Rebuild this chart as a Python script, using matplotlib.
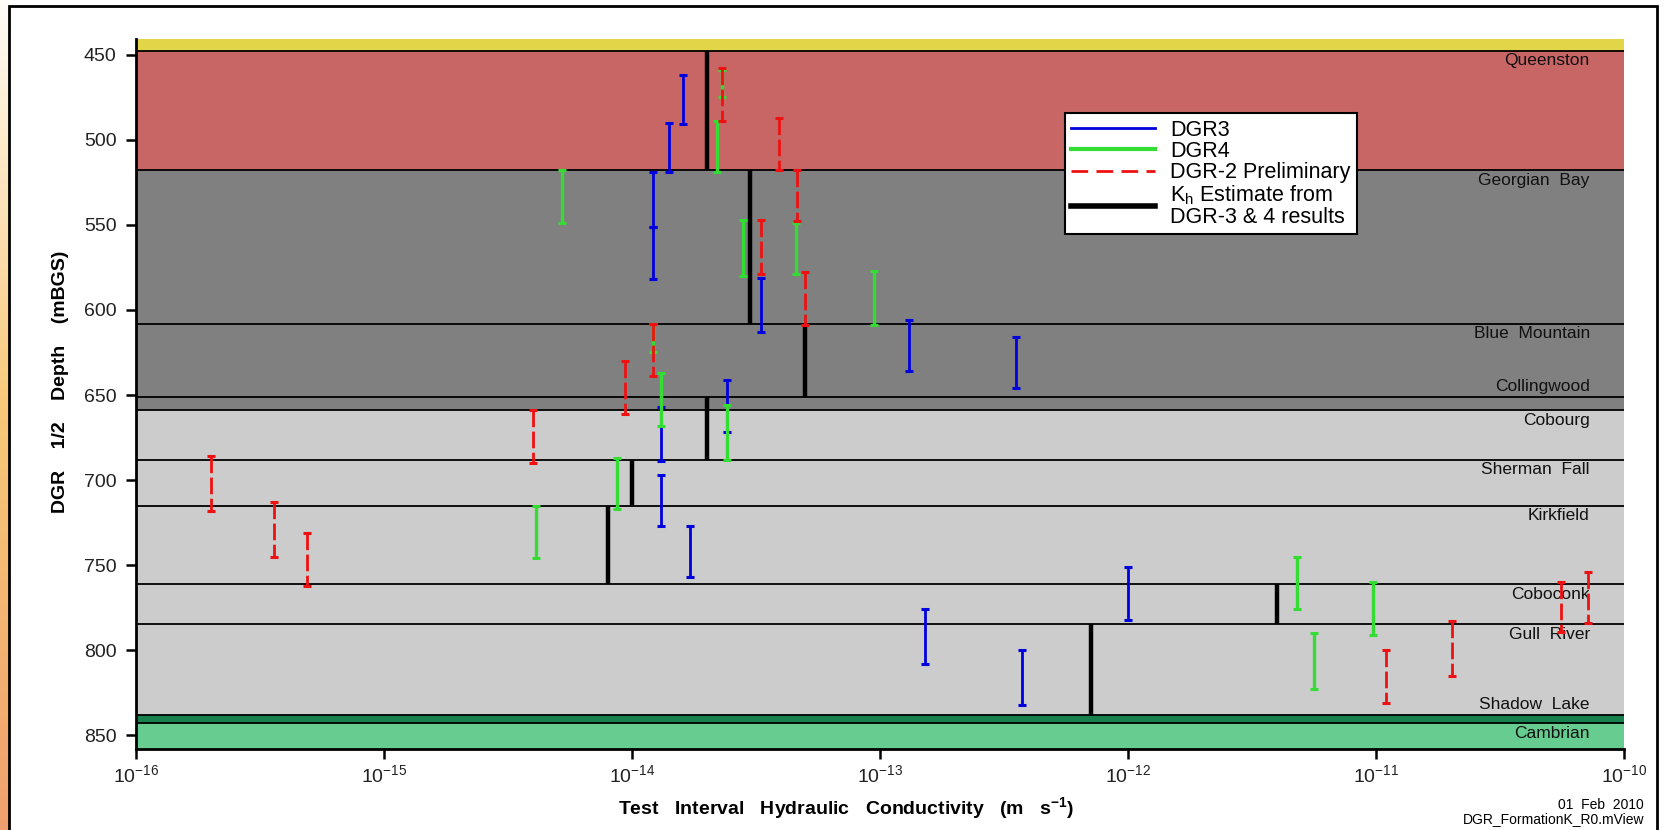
import numpy as np
import matplotlib
matplotlib.use("Agg")
import matplotlib.pyplot as plt
from matplotlib.lines import Line2D
from matplotlib.patches import Rectangle
from matplotlib.ticker import NullLocator, FixedLocator

plt.rcParams['font.family'] = ['Liberation Sans', 'DejaVu Sans']
plt.rcParams['mathtext.default'] = 'regular'

# ---- formations (depth in mBGS) ----
form_names = ["", "Queenston", "Georgian  Bay", "Blue  Mountain", "Collingwood", "Cobourg",
              "Sherman  Fall", "Kirkfield", "Coboconk", "Gull  River", "Shadow  Lake", "Cambrian"]
form_tops = [441, 447.7, 518, 608, 651, 659, 688, 715, 761, 784.5, 838, 843]
form_bots = [447.7, 518, 608, 651, 659, 688, 715, 761, 784.5, 838, 843, 858]
form_colors = ["#E3D548", "#C86666", "#808080", "#808080", "#808080", "#CCCCCC",
               "#CCCCCC", "#CCCCCC", "#CCCCCC", "#CCCCCC", "#17804F", "#66CC90"]

# ---- DGR3 test intervals ----
dgr3_k = [1.61e-14, 1.41e-14, 1.21e-14, 1.21e-14, 3.3e-14, 1.31e-13, 3.53e-13,
          2.41e-14, 1.31e-14, 1.31e-14, 1.71e-14, 1.52e-13, 3.75e-13, 1.0e-12]
dgr3_top = [462, 490, 519, 551, 581, 606, 616, 641, 657, 697, 727, 776, 800, 751]
dgr3_bot = [491, 519, 551, 582, 613, 636, 646, 672, 689, 727, 757, 808, 832, 782]

# ---- DGR4 test intervals ----
dgr4_k = [2.3e-14, 2.21e-14, 5.2e-15, 2.81e-14, 4.6e-14, 9.5e-14, 1.21e-14,
          1.31e-14, 2.41e-14, 8.7e-15, 4.1e-15, 4.8e-12, 5.6e-12, 9.75e-12]
dgr4_top = [459, 489, 518, 547, 549, 577, 608, 637, 656, 687, 715, 745, 790, 760]
dgr4_bot = [475, 519, 549, 580, 579, 609, 625, 668, 688, 717, 746, 776, 823, 791]

# ---- DGR-2 preliminary ----
dgr2_k = [2.3e-14, 3.93e-14, 4.61e-14, 3.31e-14, 5.0e-14, 1.21e-14, 9.4e-15, 4.0e-15,
          2.0e-16, 3.6e-16, 4.9e-16, 1.1e-11, 2.02e-11, 5.57e-11, 7.18e-11]
dgr2_top = [458, 487, 518, 547, 578, 608, 630, 659, 686, 713, 731, 800, 783, 760, 754]
dgr2_bot = [489, 518, 548, 579, 609, 639, 661, 690, 718, 745, 762, 831, 815, 789, 784]

# ---- Kh estimate from DGR-3 & 4 ----
kh_k = [2.0e-14, 3.0e-14, 5.0e-14, 2.0e-14, 1.0e-14, 8.0e-15, 4.0e-12, 7.1e-13]
kh_top = [447.7, 518, 608, 651, 688, 715, 761, 784.5]
kh_bot = [518, 608, 651, 688, 715, 761, 784.5, 838]

BLUE = "#0000DD"
GREEN = "#33DD33"
RED = "#EE1111"
RED_DASH = (0, (6, 1.6))

fig = plt.figure(figsize=(16.64, 8.30), dpi=100)

# left orange strip + outer frame
strip = fig.add_axes([0, 0, 9 / 1664, 1])
anchors = np.array([[255, 252, 248], [248, 200, 120], [240, 160, 110]]) / 255
grad = np.vstack([np.linspace(anchors[0], anchors[1], 100), np.linspace(anchors[1], anchors[2], 100)])
strip.imshow(grad[:, None, :], aspect='auto')
strip.axis('off')
fig.patches.append(Rectangle((9 / 1664, -0.05), 1648 / 1664, 1.05 - 5.7 / 830, transform=fig.transFigure,
                             fill=False, lw=2, ec='black', zorder=10))

ax = fig.add_axes([136 / 1664, 1 - 749 / 830, 1488 / 1664, 709.7 / 830])
ax.set_xscale('log')
ax.set_xlim(1e-16, 1e-10)
ax.set_ylim(858, 441)

for name, t, b, c in zip(form_names, form_tops, form_bots, form_colors):
    ax.axhspan(t, b, color=c, lw=0, zorder=0)
    if t > 441:
        ax.axhline(t, color='black', lw=1.3, zorder=1)
    if not name:
        continue
    if b - t < 10:
        ax.text(0.977, t - 1.5, name, transform=ax.get_yaxis_transform(), ha='right', va='bottom',
                fontsize=12.5, color='#111111', zorder=2)
    else:
        ax.text(0.977, t + 1.6, name, transform=ax.get_yaxis_transform(), ha='right', va='top',
                fontsize=12.5, color='#111111', zorder=2)

for k, t, b in zip(kh_k, kh_top, kh_bot):
    ax.plot([k, k], [t, b], color='black', lw=3.2, solid_capstyle='butt', zorder=3)


def draw_bars(ks, tops, bots, color, lw, ls='-'):
    for k, t, b in zip(ks, tops, bots):
        ax.plot([k, k], [t, b], color=color, lw=lw, ls=ls, solid_capstyle='butt', zorder=4)
        ax.plot([k, k], [t, b], ls='none', marker='_', ms=6, mew=2.2, color=color, zorder=4)


draw_bars(dgr3_k, dgr3_top, dgr3_bot, BLUE, 2.0)
draw_bars(dgr4_k, dgr4_top, dgr4_bot, GREEN, 2.4)
draw_bars(dgr2_k, dgr2_top, dgr2_bot, RED, 2.0, RED_DASH)

ax.set_yticks([450, 500, 550, 600, 650, 700, 750, 800, 850])
ax.xaxis.set_major_locator(FixedLocator([1e-16, 1e-15, 1e-14, 1e-13, 1e-12, 1e-11, 1e-10]))
ax.xaxis.set_minor_locator(NullLocator())
ax.tick_params(axis='both', direction='out', length=7, width=1.8, labelsize=14, labelcolor='#222222')
ax.tick_params(axis='y', pad=7)
ax.tick_params(axis='x', pad=4)
for s in ['top', 'right']:
    ax.spines[s].set_visible(False)
for s in ['left', 'bottom']:
    ax.spines[s].set_linewidth(2)
    ax.spines[s].set_zorder(6)

handles = [Line2D([], [], color=BLUE, lw=2),
           Line2D([], [], color=GREEN, lw=3),
           Line2D([], [], color=RED, lw=2, ls=(0, (6, 3))),
           Line2D([], [], color='black', lw=4)]
labels = ['DGR3', 'DGR4', 'DGR-2 Preliminary', 'K$_h$ Estimate from\nDGR-3 & 4 results']
leg = ax.legend(handles, labels, loc='upper left', bbox_to_anchor=(0.624, 0.896), fontsize=15.5,
                handlelength=3.9, handletextpad=0.7, labelspacing=0.02, borderpad=0.3,
                borderaxespad=0, fancybox=False, framealpha=1, edgecolor='black')
leg.get_frame().set_linewidth(1.5)
leg.set_zorder(8)
for txt in leg.get_texts():
    txt.set_linespacing(0.95)

fig.text(61 / 1664, 1 - 382 / 830, "DGR    1/2    Depth    (mBGS)", rotation=90, ha='center', va='center',
         fontsize=14, fontweight='bold')
fig.text(846 / 1664, 1 - 808 / 830, "Test   Interval   Hydraulic   Conductivity   (m   s$^{-1}$)",
         ha='center', va='center', fontsize=14, fontweight='bold')
fig.text(1644 / 1664, 1 - 805 / 830, "01  Feb  2010", ha='right', va='center', fontsize=10)
fig.text(1644 / 1664, 1 - 819 / 830, "DGR_FormationK_R0.mView", ha='right', va='center', fontsize=10)

fig.savefig("out.png", dpi=100)
